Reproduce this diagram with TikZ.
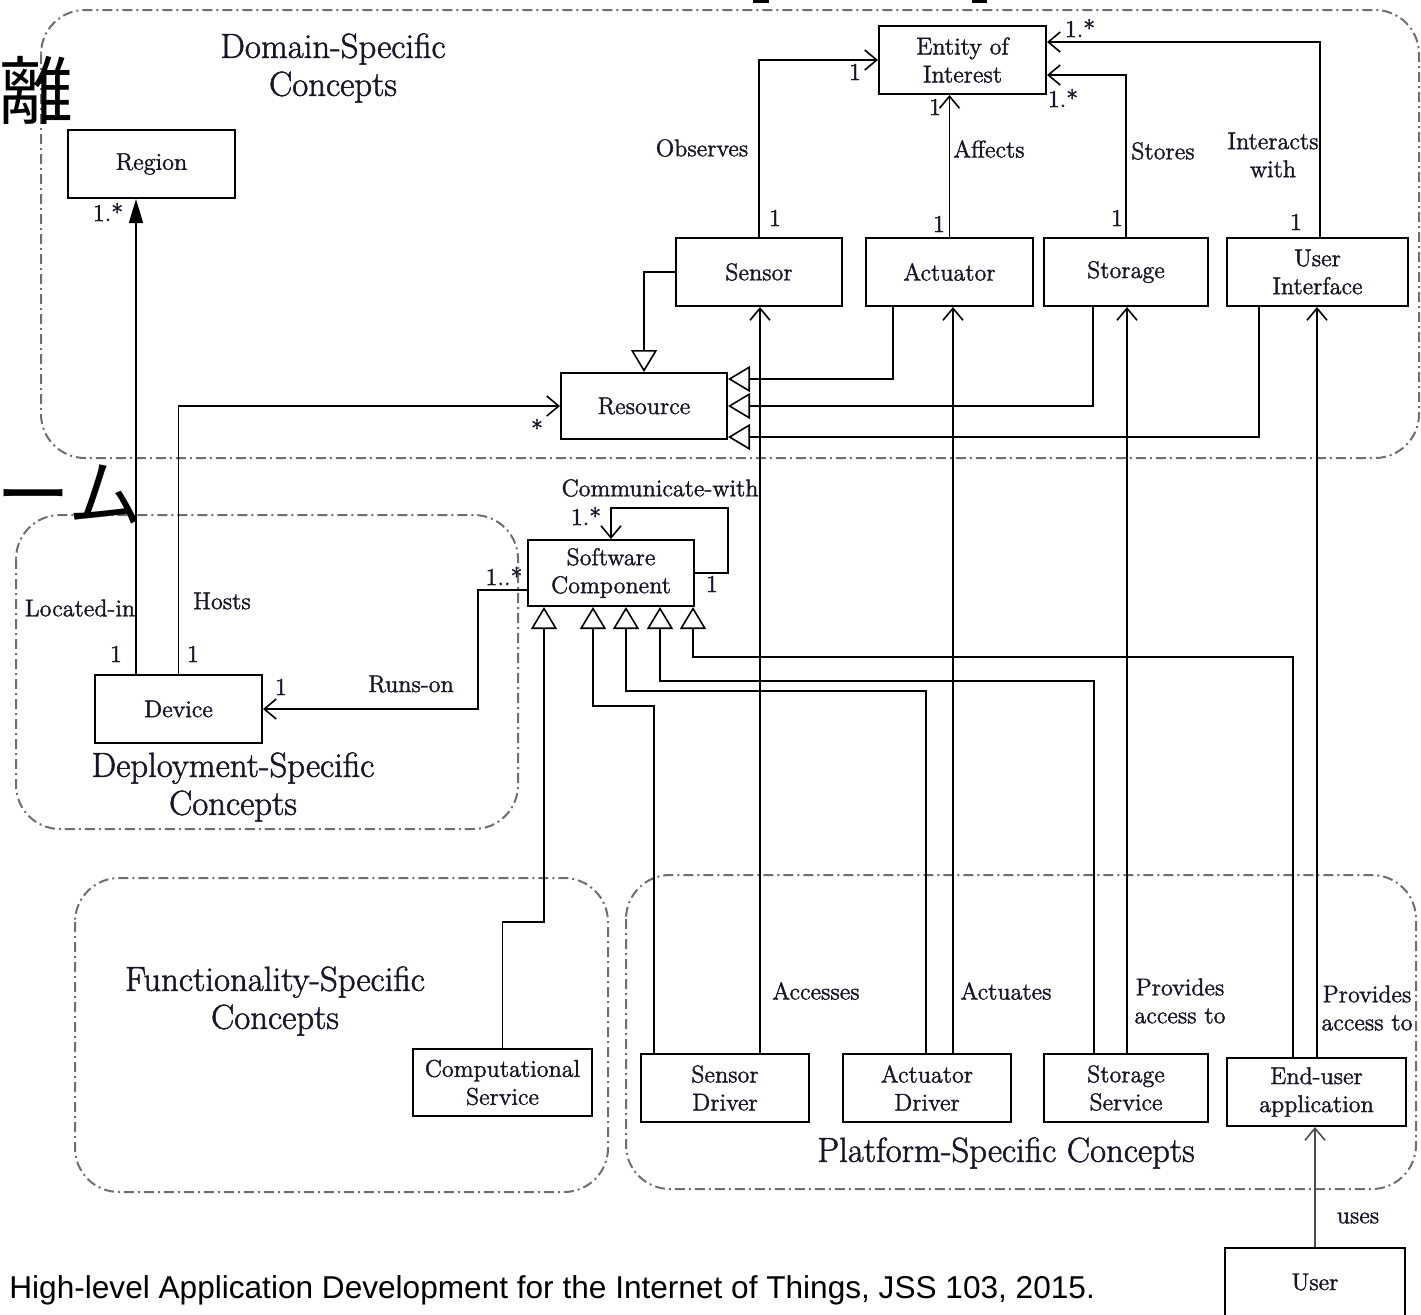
\documentclass[tikz,border=0pt]{standalone}
\usepackage{fontspec}
\newfontfamily\jpfont{Noto Sans CJK JP}
\newfontfamily\citefont{Liberation Sans}
\newfontfamily\diagfont{Latin Modern Roman}[FakeBold=1.5]
\usetikzlibrary{arrows.meta}
\definecolor{ink}{RGB}{22,22,40}
\definecolor{zone}{RGB}{110,110,110}
\newcommand\lblfont{\diagfont\fontsize{12.1}{14}\selectfont}
\newcommand\zonefont{\diagfont\fontsize{17.4}{19}\selectfont}
\begin{document}
\begin{tikzpicture}[x=0.5pt,y=-0.5pt,
  cls/.style={draw, line width=1pt, rectangle, align=center, inner sep=0pt,
    font=\lblfont, text=ink},
  lbl/.style={inner sep=0pt, align=center, font=\lblfont, text=ink},
  zonetitle/.style={inner sep=0pt, align=center, font=\zonefont, text=ink},
  zoneframe/.style={draw=zone, line width=1pt, rounded corners=22pt,
    dash pattern=on 5pt off 2pt on 1pt off 2pt},
  assoc/.style={line width=0.8pt, -{Straight Barb[length=6pt,width=10pt,line width=0.8pt]}},
  gen/.style={line width=0.8pt, -{Triangle[open,length=11pt,width=13pt,fill=white,line width=0.8pt]}},
  locin/.style={line width=0.8pt, -{Triangle[length=12pt,width=7pt]}},
  jp/.style={inner sep=0pt, font=\jpfont\fontsize{37}{40}\selectfont},
  cite/.style={inner sep=0pt, font=\citefont\fontsize{15.8}{18}\selectfont},
]
\useasboundingbox (0,0) rectangle (1421,1314);
\clip (0,0) rectangle (1421,1314);

% concept areas
\draw[zoneframe] (41,10) rectangle (1419,458);
\draw[zoneframe] (16,515) rectangle (518,829);
\draw[zoneframe] (75,878) rectangle (608,1192);
\draw[zoneframe] (626,875) rectangle (1416,1189);

\node[zonetitle] (t-dom) at (333,68) {Domain-Specific\\Concepts};
\node[zonetitle] (t-dep) at (233,787) {Deployment-Specific\\Concepts};
\node[zonetitle] (t-fun) at (275,1001) {Functionality-Specific\\Concepts};
\node[zonetitle] (t-pla) at (1006,1153) {Platform-Specific Concepts};

% classes
\node[cls, minimum width=83.5pt, minimum height=34pt] (eoi) at (962.5,60) {Entity of\\Interest};
\node[cls, minimum width=83.5pt, minimum height=34pt] (region) at (151.5,164) {Region};
\node[cls, minimum width=83pt, minimum height=34pt] (sensor) at (759,272) {Sensor};
\node[cls, minimum width=83.5pt, minimum height=34pt] (actuator) at (949.5,272) {Actuator};
\node[cls, minimum width=82pt, minimum height=34pt] (storage) at (1126,272) {Storage};
\node[cls, minimum width=90.5pt, minimum height=34pt] (ui) at (1317.5,272) {User\\Interface};
\node[cls, minimum width=83pt, minimum height=33pt] (resource) at (644,406) {Resource};
\node[cls, minimum width=83pt, minimum height=33pt] (sc) at (611,573) {Software\\Component};
\node[cls, minimum width=83.5pt, minimum height=34pt] (device) at (178.5,709) {Device};
\node[cls, minimum width=89.5pt, minimum height=33.5pt] (comp) at (502.5,1082.5) {Computational\\Service};
\node[cls, minimum width=84pt, minimum height=34pt] (sdrv) at (725,1088) {Sensor\\Driver};
\node[cls, minimum width=84pt, minimum height=34pt] (adrv) at (927,1088) {Actuator\\Driver};
\node[cls, minimum width=82pt, minimum height=34pt] (ssvc) at (1126,1088) {Storage\\Service};
\node[cls, minimum width=89.5pt, minimum height=34pt] (eua) at (1316.5,1092) {End-user\\application};
\node[cls, minimum width=90pt, minimum height=34pt] (user) at (1315,1282) {User};

% associations towards Entity of Interest
\draw[assoc] (sensor.north) |- (eoi.west);
\draw[assoc] (actuator.north) -- (actuator.north |- eoi.south);
\draw[assoc] (storage.north) |- (eoi.east |- 0,75);
\draw[assoc] (1320,0 |- ui.north) |- (eoi.east |- 0,42);

% deployment associations
\draw[locin] (136,0 |- device.north) -- (136,0 |- region.south);
\draw[assoc] (device.north) |- (resource.west);
\draw[assoc] (sc.west |- 0,590) -| (478,0 |- device.east) -- (device.east);
\draw[assoc] (sc.east) -- ++(33,0) |- (sc.north |- 0,508) -- (sc.north);

% specialisations of Resource
\draw[gen] (sensor.west) -| (resource.north);
\draw[gen] (893,0 |- actuator.south) |- (resource.east |- 0,379);
\draw[gen] (1093,0 |- storage.south) |- (resource.east);
\draw[gen] (1259,0 |- ui.south) |- (resource.east |- 0,437);

% specialisations of Software Component
\draw[gen] (comp.north) |- (544,922) -- (544,0 |- sc.south);
\draw[gen] (654,0 |- sdrv.north) |- (593,706) -- (593,0 |- sc.south);
\draw[gen] (926,0 |- adrv.north) |- (626,691) -- (626,0 |- sc.south);
\draw[gen] (1094,0 |- ssvc.north) |- (660,681) -- (660,0 |- sc.south);
\draw[gen] (1293,0 |- eua.north) |- (693,657) -- (693,0 |- sc.south);

% platform associations
\draw[assoc] (760,0 |- sdrv.north) -- (760,0 |- sensor.south);
\draw[assoc] (953,0 |- adrv.north) -- (953,0 |- actuator.south);
\draw[assoc] (1127,0 |- ssvc.north) -- (1127,0 |- storage.south);
\draw[assoc] (1317,0 |- eua.north) -- (1317,0 |- ui.south);
\draw[assoc, draw=black!70] (user.north) -- (user.north |- eua.south);

% association names and multiplicities
\node[lbl] (m-obs1) at (855,72) {1};
\node[lbl] (l-obs) at (702,148) {Observes};
\node[lbl] (m-obs2) at (775,218) {1};
\node[lbl] (m-aff1) at (935,107) {1};
\node[lbl] (l-aff) at (989,149) {Affects};
\node[lbl] (m-aff2) at (939,224) {1};
\node[lbl] (m-sto1) at (1063,98) {1.*};
\node[lbl] (l-sto) at (1163,151) {Stores};
\node[lbl] (m-sto2) at (1117,218) {1};
\node[lbl] (m-int1) at (1080,28) {1.*};
\node[lbl] (l-int) at (1273,155) {Interacts\\with};
\node[lbl] (m-int2) at (1296,222) {1};
\node[lbl] (m-loc1) at (108,212) {1.*};
\node[lbl] (l-loc) at (80,608) {Located-in};
\node[lbl] (m-loc2) at (116,654) {1};
\node[lbl] (l-hos) at (222,601) {Hosts};
\node[lbl] (m-hos1) at (193,654) {1};
\node[lbl] (m-hos2) at (537,428) {*};
\node[lbl] (m-run1) at (504,576) {1..*};
\node[lbl] (l-run) at (411,684) {Runs-on};
\node[lbl] (m-run2) at (281,687) {1};
\node[lbl] (l-com) at (660,488) {Communicate-with};
\node[lbl] (m-com1) at (586,516) {1.*};
\node[lbl] (m-com2) at (712,584) {1};
\node[lbl] (l-acc) at (816,991) {Accesses};
\node[lbl] (l-act) at (1006,991) {Actuates};
\node[lbl] (l-pro1) at (1180,1001) {Provides\\access to};
\node[lbl] (l-pro2) at (1367,1008) {Provides\\access to};
\node[lbl] (l-use) at (1358,1218) {uses};

% slide text around the figure
\node[jp, anchor=base east] (kanji) at (74,118) {離};
\node[jp, anchor=base east] (kana) at (143,521) {ーム};
\fill (753,-6) rectangle (769,3);
\fill (972,-6) rectangle (987,3);
\node[cite, anchor=base west] (cite) at (9,1298) {High-level Application Development for the Internet of Things, JSS 103, 2015.};
\end{tikzpicture}
\end{document}
